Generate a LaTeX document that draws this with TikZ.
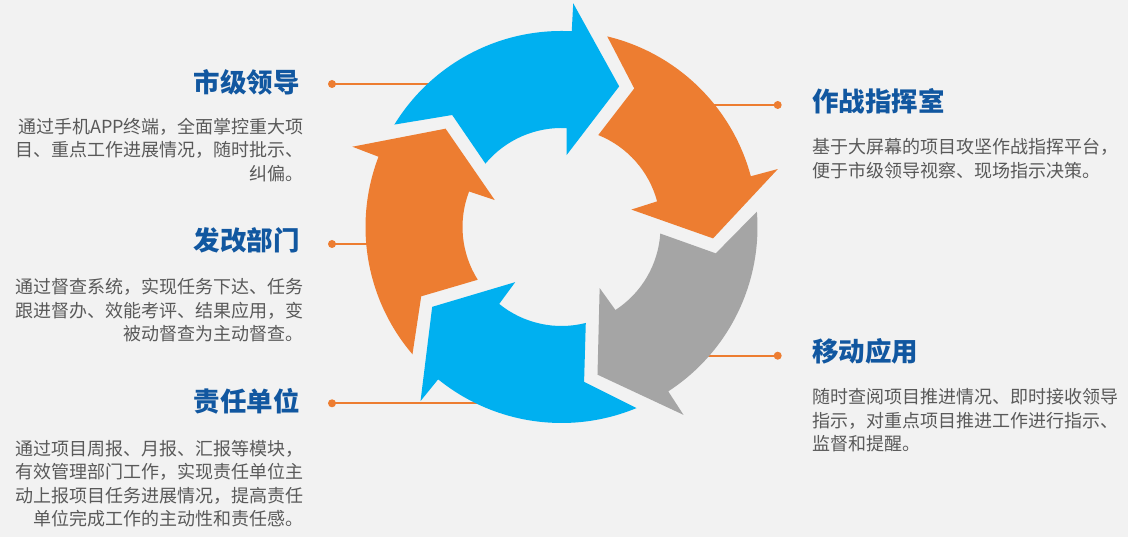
\documentclass[tikz,border=0pt]{standalone}
\usepackage{fontspec}
\newfontfamily\cjk{Noto Sans CJK SC}
\usetikzlibrary{calc}
\definecolor{bg}{HTML}{F2F2F2}
\definecolor{cblue}{HTML}{00B0F0}
\definecolor{corange}{HTML}{ED7D31}
\definecolor{cgray}{HTML}{A5A5A5}
\definecolor{ctitle}{HTML}{1157A0}
\definecolor{ctext}{HTML}{595959}
\begin{document}
\begin{tikzpicture}[x=1pt,y=1pt,
  title/.style={font=\cjk\bfseries\fontsize{26.5}{30}\selectfont, text=ctitle, inner sep=0pt},
  body/.style={font=\cjk\fontsize{18}{23.5}\selectfont, text=ctext, inner sep=0pt},
  dot/.style={circle, fill=corange, minimum size=8pt, inner sep=0pt},
  link/.style={draw=corange, line width=2pt}]

\fill[bg] (0,0) rectangle (1128,537);
\useasboundingbox (0,0) rectangle (1128,537);
\coordinate (C) at (561.5,310);

% connectors (drawn beneath the arrows)
\node[dot] (d1) at (332,453) {};
\node[dot] (d2) at (332,293) {};
\node[dot] (d3) at (332,133.7) {};
\node[dot] (d4) at (777.7,432) {};
\node[dot] (d5) at (777.7,181.3) {};
\coordinate (e1) at (470,453);
\coordinate (e2) at (400,293);
\coordinate (e3) at (490,133.7);
\coordinate (e4) at (700,432);
\coordinate (e5) at (690,181.3);
\foreach \i in {1,...,5} {\draw[link] (d\i.center) -- (e\i);}

% circular arrows
\foreach \B/\col in {87/cblue,15/corange,-57/cgray,-129/cblue,-201/corange} {
  \pgfmathsetmacro{\ta}{\B+61.5}
  \pgfmathsetmacro{\ti}{\B+53.2}
  \pgfmathsetmacro{\tn}{\B+47.3}
  \pgfmathsetmacro{\tip}{\B-19.3}
  \pgfmathsetmacro{\bi}{\B-1}
  \fill[\col] ($(C)+(\ta:196)$) arc[start angle=\ta, end angle=\B, radius=196]
    -- ($(C)+(\B:224)$) -- ($(C)+(\tip:152)$) -- ($(C)+(\bi:72)$)
    -- ($(C)+(\B:99)$) arc[start angle=\B, end angle=\ti, radius=99]
    -- ($(C)+(\tn:156.5)$) -- cycle;
}

% texts
\node[title, anchor=east] (t1) at (300,454.7) {市级领导};
\node[body, anchor=north east, align=right] (b1) at (304,419.5)
  {通过手机APP终端，全面掌控重大项\\目、重点工作进展情况，随时批示、\\纠偏。};
\node[title, anchor=east] (t2) at (300,296.3) {发改部门};
\node[body, anchor=north east, align=right] (b2) at (304,258.8)
  {通过督查系统，实现任务下达、任务\\跟进督办、效能考评、结果应用，变\\被动督查为主动督查。};
\node[title, anchor=east] (t3) at (300,136) {责任单位};
\node[body, anchor=north east, align=right] (b3) at (304,97.2)
  {通过项目周报、月报、汇报等模块，\\有效管理部门工作，实现责任单位主\\动上报项目任务进展情况，提高责任\\单位完成工作的主动性和责任感。};
\node[title, anchor=west] (t4) at (812,435.3) {作战指挥室};
\node[body, anchor=north west, align=left] (b4) at (812,398.8)
  {基于大屏幕的项目攻坚作战指挥平台，\\便于市级领导视察、现场指示决策。};
\node[title, anchor=west] (t5) at (812,185.3) {移动应用};
\node[body, anchor=north west, align=left] (b5) at (812,148.8)
  {随时查阅项目推进情况、即时接收领导\\指示，对重点项目推进工作进行指示、\\监督和提醒。};
\end{tikzpicture}
\end{document}
